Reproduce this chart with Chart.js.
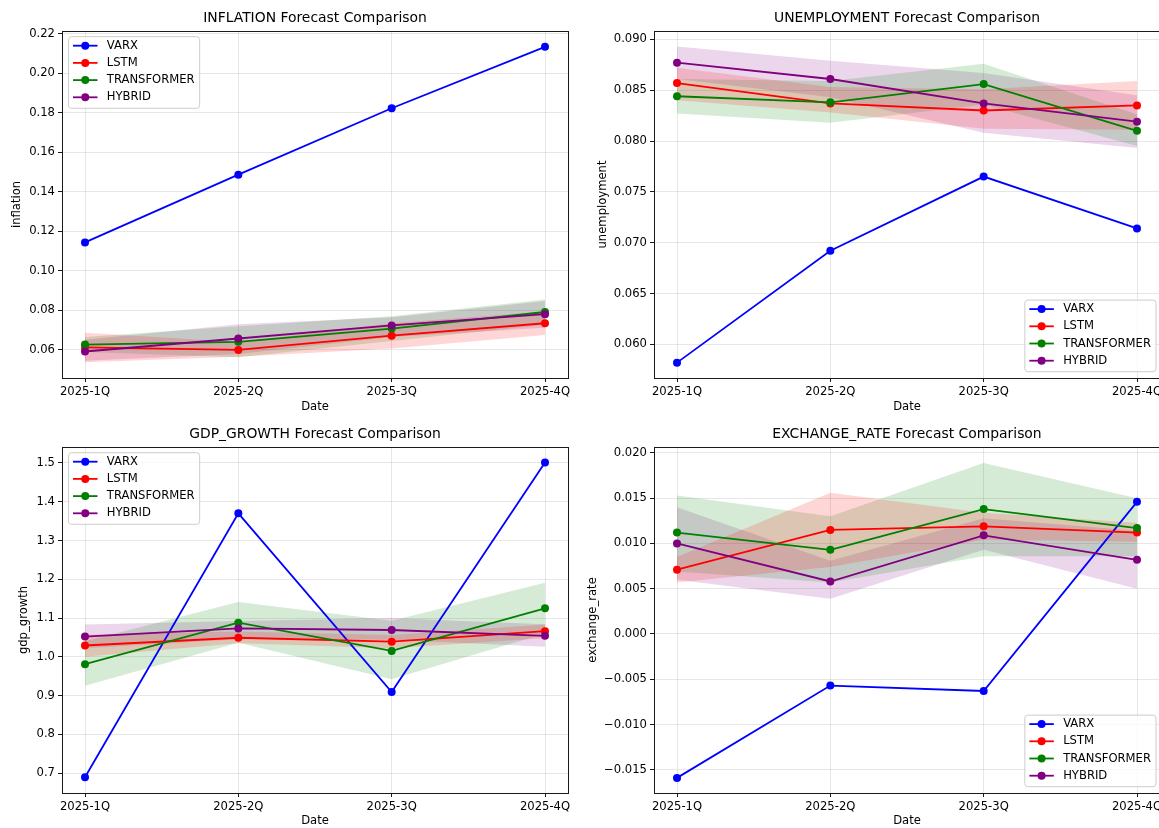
<!DOCTYPE html>
<html>
<head>
<meta charset="utf-8">
<title>Forecast Comparison</title>
<script src="https://cdn.jsdelivr.net/npm/chart.js@4.4.0/dist/chart.umd.min.js"></script>
<style>
  body { margin: 0; background: #fff; width: 1159px; height: 828px; overflow: hidden; position: relative; }
  .panel { position: absolute; height: 414px; }
</style>
</head>
<body>
<div class="panel" style="left:0;top:0;width:580px"><canvas id="inflationChart" width="580" height="414"></canvas></div>
<div class="panel" style="left:580px;top:0;width:592px"><canvas id="unemploymentChart" width="592" height="414"></canvas></div>
<div class="panel" style="left:0;top:414px;width:580px"><canvas id="gdpChart" width="580" height="414"></canvas></div>
<div class="panel" style="left:580px;top:414px;width:592px"><canvas id="exchangeChart" width="592" height="414"></canvas></div>

<script>
// Shared categories / models
const categories = ['2025-1Q', '2025-2Q', '2025-3Q', '2025-4Q'];
const models = ['VARX', 'LSTM', 'TRANSFORMER', 'HYBRID'];

// Inflation
const inflationTicks = [0.06, 0.08, 0.10, 0.12, 0.14, 0.16, 0.18, 0.20, 0.22];
const inflationVARX = [0.1144, 0.1487, 0.1823, 0.2134];
const inflationLSTM = [0.0613, 0.0600, 0.0672, 0.0735];
const inflationTRANSFORMER = [0.0627, 0.0641, 0.0708, 0.0792];
const inflationHYBRID = [0.0592, 0.0658, 0.0724, 0.0781];
const inflationLSTMLow = [0.0538, 0.0565, 0.0607, 0.0675];
const inflationLSTMHigh = [0.0687, 0.0640, 0.0735, 0.0795];
const inflationTRANSFORMERLow = [0.0590, 0.0563, 0.0645, 0.0728];
const inflationTRANSFORMERHigh = [0.0665, 0.0720, 0.0770, 0.0855];
const inflationHYBRIDLow = [0.0545, 0.0580, 0.0665, 0.0712];
const inflationHYBRIDHigh = [0.0652, 0.0730, 0.0766, 0.0848];

// Unemployment
const unemploymentTicks = [0.060, 0.065, 0.070, 0.075, 0.080, 0.085, 0.090];
const unemploymentVARX = [0.0582, 0.0692, 0.0765, 0.0714];
const unemploymentLSTM = [0.0857, 0.0837, 0.0830, 0.0835];
const unemploymentTRANSFORMER = [0.0844, 0.0838, 0.0856, 0.0810];
const unemploymentHYBRID = [0.0877, 0.0861, 0.0837, 0.0819];
const unemploymentLSTMLow = [0.0840, 0.0828, 0.0812, 0.0811];
const unemploymentLSTMHigh = [0.0872, 0.0853, 0.0851, 0.0859];
const unemploymentTRANSFORMERLow = [0.0827, 0.0818, 0.0836, 0.0795];
const unemploymentTRANSFORMERHigh = [0.0861, 0.0859, 0.0876, 0.0826];
const unemploymentHYBRIDLow = [0.0861, 0.0843, 0.0808, 0.0793];
const unemploymentHYBRIDHigh = [0.0893, 0.0879, 0.0867, 0.0845];

// GDP growth
const gdpTicks = [0.7, 0.8, 0.9, 1.0, 1.1, 1.2, 1.3, 1.4, 1.5];
const gdpVARX = [0.689, 1.370, 0.909, 1.501];
const gdpLSTM = [1.029, 1.049, 1.039, 1.066];
const gdpTRANSFORMER = [0.981, 1.088, 1.015, 1.125];
const gdpHYBRID = [1.052, 1.073, 1.069, 1.054];
const gdpLSTMLow = [1.000, 1.035, 1.022, 1.048];
const gdpLSTMHigh = [1.057, 1.065, 1.056, 1.083];
const gdpTRANSFORMERLow = [0.925, 1.036, 0.942, 1.060];
const gdpTRANSFORMERHigh = [1.040, 1.141, 1.093, 1.191];
const gdpHYBRIDLow = [1.022, 1.045, 1.044, 1.026];
const gdpHYBRIDHigh = [1.083, 1.092, 1.100, 1.084];

// Exchange rate
const exchangeTicks = [-0.015, -0.010, -0.005, 0.000, 0.005, 0.010, 0.015, 0.020];
const exchangeVARX = [-0.0159, -0.0057, -0.0063, 0.0146];
const exchangeLSTM = [0.0071, 0.0115, 0.0119, 0.0112];
const exchangeTRANSFORMER = [0.0112, 0.0093, 0.0138, 0.0117];
const exchangeHYBRID = [0.0100, 0.0058, 0.0109, 0.0082];
const exchangeLSTMLow = [0.0057, 0.0074, 0.0104, 0.0102];
const exchangeLSTMHigh = [0.0085, 0.0156, 0.0134, 0.0123];
const exchangeTRANSFORMERLow = [0.0069, 0.0057, 0.0086, 0.0086];
const exchangeTRANSFORMERHigh = [0.0153, 0.0130, 0.0189, 0.0150];
const exchangeHYBRIDLow = [0.0060, 0.0039, 0.0093, 0.0050];
const exchangeHYBRIDHigh = [0.0140, 0.0081, 0.0128, 0.0114];

const modelColors = ['#0000ff', '#ff0000', '#008000', '#800080'];
const bandColors = ['', 'rgba(255,0,0,0.16)', 'rgba(0,128,0,0.16)', 'rgba(128,0,128,0.16)'];
const FONT = 'DejaVu Sans';
const gridColor = 'rgba(176,176,176,0.3)';

function toPoints(values) {
  return values.map((v, i) => ({ x: i, y: v }));
}

function formatTick(v, decimals) {
  const s = Math.abs(v).toFixed(decimals);
  return (v < -1e-12 ? '\u2212' : '') + s;
}

// Frame, title and legend drawn on top of the datasets
const decorations = {
  id: 'decorations',
  afterDatasetsDraw(chart, args, opts) {
    const { ctx, chartArea: a } = chart;
    ctx.save();
    ctx.strokeStyle = '#1a1a1a';
    ctx.lineWidth = 1;
    ctx.strokeRect(Math.round(a.left) + 0.5, Math.round(a.top) + 0.5,
      Math.round(a.right - a.left), Math.round(a.bottom - a.top));

    ctx.fillStyle = '#000';
    ctx.font = `13.9px "${FONT}"`;
    ctx.textAlign = 'center';
    ctx.textBaseline = 'middle';
    ctx.fillText(opts.title, (a.left + a.right) / 2, a.top - 13);

    // legend
    ctx.font = `11.6px "${FONT}"`;
    const textW = Math.max(...models.map(m => ctx.measureText(m).width));
    const w = 4.5 + 24.5 + 9.3 + textW + 5;
    const rowH = 17.2;
    const h = 9 + rowH * (models.length - 1) + 11;
    let x, y;
    if (opts.legendCorner === 'ul') {
      x = a.left + 6.5; y = a.top + 5.7;
    } else {
      x = a.right - 4 - w; y = a.bottom - 6.3 - h;
    }
    ctx.beginPath();
    ctx.roundRect(x, y, w, h, 3);
    ctx.fillStyle = 'rgba(255,255,255,0.8)';
    ctx.fill();
    ctx.strokeStyle = '#cccccc';
    ctx.lineWidth = 1;
    ctx.stroke();
    models.forEach((m, i) => {
      const cy = y + 9 + i * rowH;
      ctx.strokeStyle = modelColors[i];
      ctx.lineWidth = 1.8;
      ctx.beginPath();
      ctx.moveTo(x + 4.5, cy);
      ctx.lineTo(x + 29, cy);
      ctx.stroke();
      ctx.fillStyle = modelColors[i];
      ctx.beginPath();
      ctx.arc(x + 16.75, cy, 4, 0, Math.PI * 2);
      ctx.fill();
      ctx.fillStyle = '#000';
      ctx.textAlign = 'left';
      ctx.textBaseline = 'middle';
      ctx.fillText(m, x + 38.3, cy);
    });
    ctx.restore();
  }
};

function buildChart(cfg) {
  const datasets = [];
  cfg.series.forEach((values, i) => {
    datasets.push({
      label: models[i],
      data: toPoints(values),
      borderColor: modelColors[i],
      backgroundColor: modelColors[i],
      borderWidth: 1.8,
      pointRadius: 4,
      pointHoverRadius: 4,
      pointBorderWidth: 0,
      pointBackgroundColor: modelColors[i],
      fill: false,
      tension: 0,
      order: 4 - i
    });
  });
  cfg.bands.forEach(([low, high], k) => {
    const i = k + 1;
    datasets.push({
      label: models[i] + ' band',
      data: toPoints(high),
      borderColor: 'rgba(0,0,0,0)',
      borderWidth: 0,
      pointRadius: 0,
      fill: '+1',
      backgroundColor: bandColors[i],
      order: 10
    });
    datasets.push({
      label: models[i] + ' band low',
      data: toPoints(low),
      borderColor: 'rgba(0,0,0,0)',
      borderWidth: 0,
      pointRadius: 0,
      fill: false,
      order: 10
    });
  });

  const tickFont = { family: FONT, size: 11.6 };

  return new Chart(document.getElementById(cfg.canvas).getContext('2d'), {
    type: 'line',
    data: { datasets },
    plugins: [decorations],
    options: {
      responsive: false,
      animation: false,
      devicePixelRatio: 1,
      events: [],
      layout: { padding: { top: cfg.top, right: cfg.right, left: 0, bottom: 0 } },
      plugins: {
        legend: { display: false },
        tooltip: { enabled: false },
        filler: { drawTime: 'beforeDatasetsDraw' },
        decorations: { title: cfg.title, legendCorner: cfg.legendCorner }
      },
      scales: {
        x: {
          type: 'linear',
          min: -0.15,
          max: 3.15,
          afterBuildTicks: s => { s.ticks = categories.map((c, i) => ({ value: i })); },
          afterFit: s => { s.height = cfg.xHeight; s.paddingLeft = 0; s.paddingRight = 0; },
          ticks: {
            callback: v => categories[v],
            font: tickFont, color: '#000', padding: 3,
            maxRotation: 0, autoSkip: false
          },
          grid: { color: gridColor, lineWidth: 1, tickLength: 4, tickColor: '#1a1a1a', tickWidth: 1 },
          border: { display: false },
          title: { display: true, text: 'Date', font: tickFont, color: '#000', padding: { top: 0, bottom: 0 } }
        },
        y: {
          min: cfg.range[0],
          max: cfg.range[1],
          afterBuildTicks: s => { s.ticks = cfg.ticks.map(v => ({ value: v })); },
          afterFit: s => { s.width = cfg.yWidth; s.paddingTop = 0; s.paddingBottom = 0; },
          ticks: {
            callback: v => formatTick(v, cfg.decimals),
            font: tickFont, color: '#000', padding: 3
          },
          grid: { color: gridColor, lineWidth: 1, tickLength: 4, tickColor: '#1a1a1a', tickWidth: 1 },
          border: { display: false },
          title: { display: true, text: cfg.yLabel, font: tickFont, color: '#000', padding: { top: cfg.yTitlePad, bottom: 0 } }
        }
      }
    }
  });
}

document.addEventListener('DOMContentLoaded', () => {
  buildChart({
    canvas: 'inflationChart', title: 'INFLATION Forecast Comparison', yLabel: 'inflation',
    ticks: inflationTicks, decimals: 2, range: [0.0458, 0.2214],
    series: [inflationVARX, inflationLSTM, inflationTRANSFORMER, inflationHYBRID],
    bands: [[inflationLSTMLow, inflationLSTMHigh], [inflationTRANSFORMERLow, inflationTRANSFORMERHigh], [inflationHYBRIDLow, inflationHYBRIDHigh]],
    legendCorner: 'ul', top: 31, right: 12, yWidth: 62, xHeight: 36, yTitlePad: 10
  });

  buildChart({
    canvas: 'unemploymentChart', title: 'UNEMPLOYMENT Forecast Comparison', yLabel: 'unemployment',
    ticks: unemploymentTicks, decimals: 3, range: [0.05669, 0.09082],
    series: [unemploymentVARX, unemploymentLSTM, unemploymentTRANSFORMER, unemploymentHYBRID],
    bands: [[unemploymentLSTMLow, unemploymentLSTMHigh], [unemploymentTRANSFORMERLow, unemploymentTRANSFORMERHigh], [unemploymentHYBRIDLow, unemploymentHYBRIDHigh]],
    legendCorner: 'lr', top: 31, right: 12, yWidth: 74, xHeight: 36, yTitlePad: 16
  });

  buildChart({
    canvas: 'gdpChart', title: 'GDP_GROWTH Forecast Comparison', yLabel: 'gdp_growth',
    ticks: gdpTicks, decimals: 1, range: [0.6485, 1.5412],
    series: [gdpVARX, gdpLSTM, gdpTRANSFORMER, gdpHYBRID],
    bands: [[gdpLSTMLow, gdpLSTMHigh], [gdpTRANSFORMERLow, gdpTRANSFORMERHigh], [gdpHYBRIDLow, gdpHYBRIDHigh]],
    legendCorner: 'ul', top: 33, right: 12, yWidth: 62, xHeight: 35, yTitlePad: 17
  });

  buildChart({
    canvas: 'exchangeChart', title: 'EXCHANGE_RATE Forecast Comparison', yLabel: 'exchange_rate',
    ticks: exchangeTicks, decimals: 3, range: [-0.01757, 0.02066],
    series: [exchangeVARX, exchangeLSTM, exchangeTRANSFORMER, exchangeHYBRID],
    bands: [[exchangeLSTMLow, exchangeLSTMHigh], [exchangeTRANSFORMERLow, exchangeTRANSFORMERHigh], [exchangeHYBRIDLow, exchangeHYBRIDHigh]],
    legendCorner: 'lr', top: 33, right: 12, yWidth: 74, xHeight: 35, yTitlePad: 6
  });
});
</script>
</body>
</html>
